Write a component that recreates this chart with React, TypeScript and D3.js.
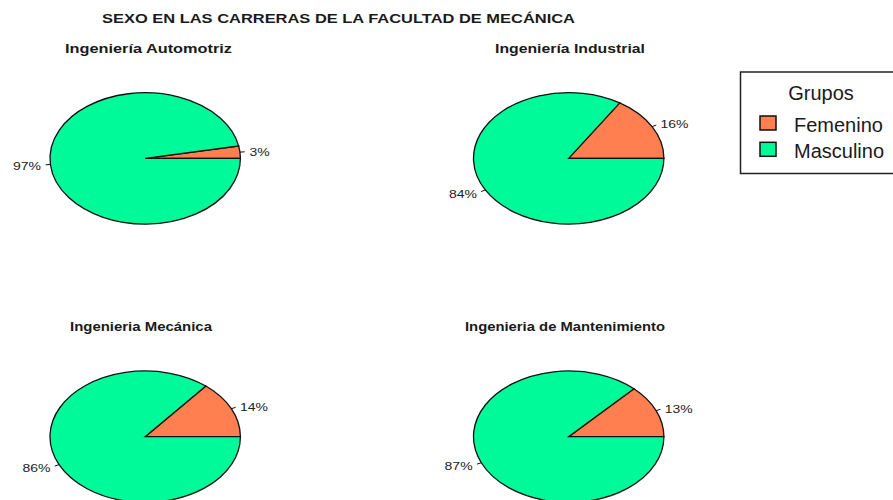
import React from "react";
import * as d3 from "d3";

const groups = ["Femenino", "Masculino"];
const colors = ["#FF7F50", "#00FA9A"];
const careers = [
  "Ingeniería Automotriz",
  "Ingeniería Industrial",
  "Ingenieria Mecánica",
  "Ingenieria de Mantenimiento",
];
const femenino = [3, 16, 14, 13];
const masculino = [97, 84, 86, 87];
const mainTitle = "SEXO EN LAS CARRERAS DE LA FACULTAD DE MECÁNICA";
const legendTitle = "Grupos";

const W = 893;
const H = 500;

export default function App() {
  const cols = d3.scaleOrdinal<number, number>().domain([0, 1]).range([145.2, 568.7]);
  const rows = d3.scaleOrdinal<number, number>().domain([0, 1]).range([158.3, 436.7]);
  const subtitleWidths = [167, 150, 142, 200];
  const subtitleShift = [3.3, 1.3, -4.2, -3.7];
  const rx = 95.2;
  const ry = 65.7;
  const pie = d3
    .pie<number>()
    .sort(null)
    .value((d) => d)
    .startAngle(Math.PI / 2)
    .endAngle(Math.PI / 2 - 2 * Math.PI);
  const arc = d3.arc<d3.PieArcDatum<number>>().innerRadius(0).outerRadius(1);
  const color = d3.scaleOrdinal<string, string>().domain(groups).range(colors);

  return (
    <svg
      width={W}
      height={H}
      style={{ position: "absolute", left: 0, top: 0, display: "block", background: "#fff" }}
      fontFamily="'Liberation Sans', Arial, sans-serif"
    >
      <text
        x={102}
        y={23.3}
        fontSize={12.5}
        fontWeight="bold"
        fill="#1a1a1a"
        textLength={473}
        lengthAdjust="spacingAndGlyphs"
      >
        {mainTitle}
      </text>
      {careers.map((name, i) => {
        const cx = cols(i % 2);
        const cy = rows(Math.floor(i / 2));
        const vals = [femenino[i], masculino[i]];
        const arcs = pie(vals);
        const tw = subtitleWidths[i];
        return (
          <g key={name}>
            <text
              x={cx + subtitleShift[i] - tw / 2}
              y={cy - 105.3}
              fontSize={12.5}
              fontWeight="bold"
              fill="#1a1a1a"
              textLength={tw}
              lengthAdjust="spacingAndGlyphs"
            >
              {name}
            </text>
            <g transform={`translate(${cx},${cy}) scale(${rx},${ry})`}>
              {arcs.map((a, j) => (
                <path
                  key={j}
                  d={arc(a) || ""}
                  fill={color(groups[j])}
                  stroke="#111"
                  strokeWidth={1.3}
                  vectorEffect="non-scaling-stroke"
                />
              ))}
            </g>
            {arcs.map((a, j) => {
              const mid = (a.startAngle + a.endAngle) / 2;
              const ux = Math.sin(mid);
              const uy = -Math.cos(mid);
              const x1 = cx + ux * rx;
              const y1 = cy + uy * ry;
              const x2 = cx + ux * rx * 1.05;
              const y2 = cy + uy * ry * 1.05;
              const tx = cx + ux * rx * 1.1;
              const ty = cy + uy * ry * 1.1 + 1.5;
              return (
                <g key={"l" + j}>
                  <line x1={x1} y1={y1} x2={x2} y2={y2} stroke="#111" strokeWidth={1} />
                  <text
                    transform={`translate(${tx},${ty}) scale(1.4,1)`}
                    fontSize={10}
                    fill="#222"
                    dominantBaseline="central"
                    textAnchor={ux < 0 ? "end" : "start"}
                  >
                    {vals[j] + "%"}
                  </text>
                </g>
              );
            })}
          </g>
        );
      })}
      <g>
        <rect x={740.5} y={72} width={170} height={101.5} fill="#fff" stroke="#222" strokeWidth={1.5} />
        <text x={821} y={99.5} fontSize={20} textAnchor="middle" fill="#1a1a1a">
          {legendTitle}
        </text>
        {groups.map((g, j) => (
          <g key={g}>
            <rect
              x={760}
              y={116 + j * 26.3}
              width={16}
              height={14}
              fill={color(g)}
              stroke="#111"
              strokeWidth={1.5}
            />
            <text x={794} y={132 + j * 26.3} fontSize={20} fill="#1a1a1a">
              {g}
            </text>
          </g>
        ))}
      </g>
    </svg>
  );
}
